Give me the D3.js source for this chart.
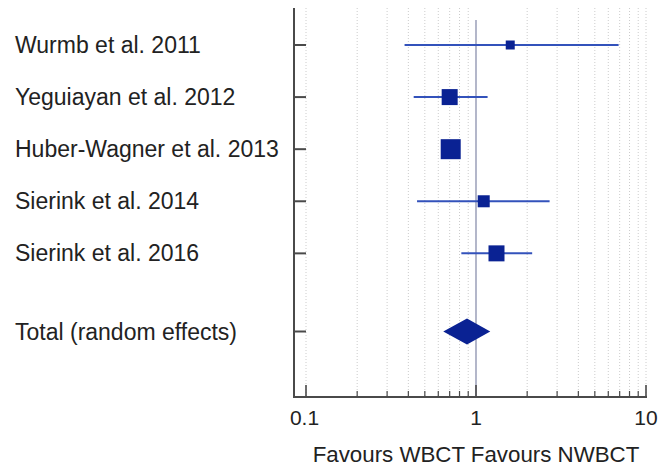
<!DOCTYPE html>
<html>
<head>
<meta charset="utf-8">
<script src="https://cdn.jsdelivr.net/npm/d3@7"></script>
<style>
  html, body { margin: 0; padding: 0; background: #fff; }
  svg { display: block; font-family: "Liberation Sans", Arial, sans-serif; }
</style>
</head>
<body>
<svg id="chart" width="662" height="465"></svg>
<script>
// ---- data ----
const studies  = ["Wurmb et al. 2011", "Yeguiayan et al. 2012", "Huber-Wagner et al. 2013", "Sierink et al. 2014", "Sierink et al. 2016"];
const estimate = [1.59, 0.70, 0.71, 1.11, 1.32];
const lower    = [0.38, 0.43, 0.65, 0.45, 0.82];
const upper    = [6.9, 1.17, 0.78, 2.71, 2.14];
const weights  = [7.1, 22.5, 35.2, 12.7, 22.5];
const totalLabel = "Total (random effects)";
const totalEst = 0.885, totalLo = 0.642, totalHi = 1.213;
const majorTicks = [0.1, 1, 10];
const tickLabels = ["0.1", "1", "10"];
const minorTicks = [0.2,0.3,0.4,0.5,0.6,0.7,0.8,0.9,2,3,4,5,6,7,8,9];
const axisTitle = "Favours WBCT Favours NWBCT";

// ---- layout ----
const svg = d3.select("#chart");
const x = d3.scaleLog().domain([0.1, 10]).range([306, 646]);
// study rows at 0..4, total row one and a half steps below
const rowPos = [0, 1, 2, 3, 4, 5.5];
const rowLabels = [...studies, totalLabel];
const y = d3.scaleLinear().domain([0, 5.5]).range([45, 331.5]);
const yTop = 8, yBottom = 397, axisX = 294;
const size = d3.scaleSqrt().domain([0, d3.max(weights)]).range([0, 20]);

const boxFill = "#0a2293";
const lineCol = "#3352bb";
const axisCol = "#4a4a4a";

// gridlines
svg.append("g").selectAll("line").data([...majorTicks.filter(d => d !== 1), ...minorTicks]).join("line")
  .attr("x1", d => x(d)).attr("x2", d => x(d))
  .attr("y1", yTop).attr("y2", yBottom)
  .attr("stroke", "#cccccc").attr("stroke-width", 1)
  .attr("stroke-dasharray", "1,2");

// line of no effect
svg.append("line")
  .attr("x1", x(1)).attr("x2", x(1)).attr("y1", 20).attr("y2", yBottom)
  .attr("stroke", "#8a90ad").attr("stroke-width", 1.3);

// axes
svg.append("line").attr("x1", axisX).attr("x2", axisX).attr("y1", yTop).attr("y2", yBottom + 1)
  .attr("stroke", axisCol).attr("stroke-width", 2);
svg.append("line").attr("x1", axisX - 1).attr("x2", 647).attr("y1", yBottom).attr("y2", yBottom)
  .attr("stroke", axisCol).attr("stroke-width", 2);

// row ticks
svg.append("g").selectAll("line").data(rowPos).join("line")
  .attr("x1", axisX).attr("x2", axisX + 12)
  .attr("y1", d => y(d)).attr("y2", d => y(d))
  .attr("stroke", axisCol).attr("stroke-width", 2);

// x ticks
svg.append("g").selectAll("line").data(majorTicks).join("line")
  .attr("x1", d => x(d)).attr("x2", d => x(d))
  .attr("y1", yBottom).attr("y2", yBottom - 12)
  .attr("stroke", axisCol).attr("stroke-width", 1.6);
svg.append("g").selectAll("line").data(minorTicks).join("line")
  .attr("x1", d => x(d)).attr("x2", d => x(d))
  .attr("y1", yBottom).attr("y2", yBottom - 6)
  .attr("stroke", axisCol).attr("stroke-width", 1.2);
svg.append("g").selectAll("text").data(majorTicks).join("text")
  .attr("x", (d, i) => x(d) - (i === 0 ? 1.5 : 0)).attr("y", 425)
  .attr("text-anchor", "middle").attr("font-size", 21).attr("fill", "#222")
  .text((d, i) => tickLabels[i]);

svg.append("text").attr("x", 476).attr("y", 461.5)
  .attr("text-anchor", "middle").attr("font-size", 22.3).attr("fill", "#222")
  .text(axisTitle);

// labels
svg.append("g").selectAll("text").data(rowPos).join("text")
  .attr("x", 15).attr("y", d => y(d) + 8)
  .attr("font-size", 23).attr("fill", "#222")
  .text((d, i) => rowLabels[i]);

// whiskers
svg.append("g").selectAll("line").data(studies).join("line")
  .attr("x1", (d, i) => x(lower[i])).attr("x2", (d, i) => x(upper[i]))
  .attr("y1", (d, i) => y(rowPos[i])).attr("y2", (d, i) => y(rowPos[i]))
  .attr("stroke", lineCol).attr("stroke-width", 2);

// boxes
svg.append("g").selectAll("rect").data(studies).join("rect")
  .attr("x", (d, i) => x(estimate[i]) - size(weights[i]) / 2)
  .attr("y", (d, i) => y(rowPos[i]) - size(weights[i]) / 2)
  .attr("width", (d, i) => size(weights[i]))
  .attr("height", (d, i) => size(weights[i]))
  .attr("fill", boxFill);

// diamond
const ty = y(rowPos[5]), h = 13;
svg.append("path")
  .attr("d", `M${x(totalLo)},${ty} L${x(totalEst)},${ty - h} L${x(totalHi)},${ty} L${x(totalEst)},${ty + h} Z`)
  .attr("fill", boxFill);
</script>
</body>
</html>
